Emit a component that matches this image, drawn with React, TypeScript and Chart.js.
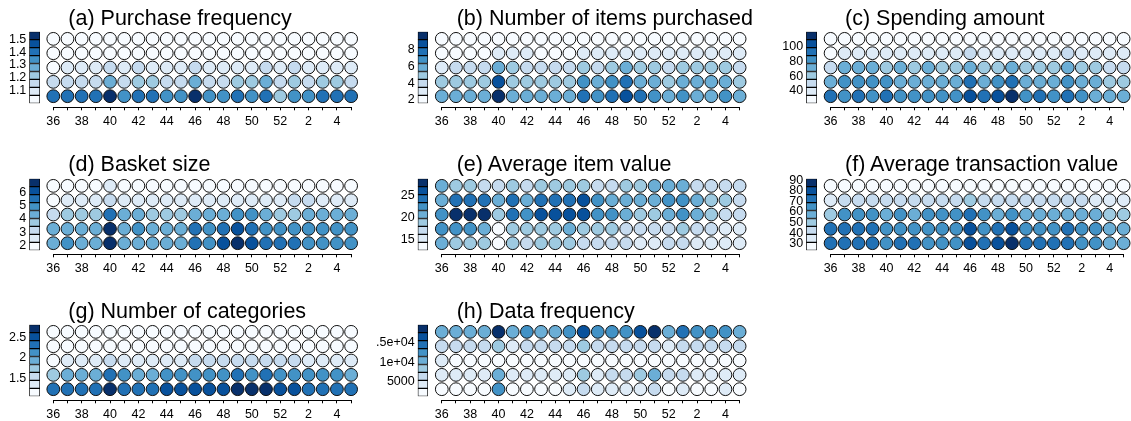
import React, { useEffect, useRef } from 'react';
import { Chart, registerables } from 'chart.js';

Chart.register(...registerables);

const FONT = '"Liberation Sans", Arial, Helvetica, sans-serif';

// Calendar weeks on the horizontal axis (week 36 of one year to week 5 of the next)
const weeks = ['36', '37', '38', '39', '40', '41', '42', '43', '44', '45', '46', '47', '48', '49', '50', '51', '52', '1', '2', '3', '4', '5'];

// Nine-step sequential blue palette used by every panel
const blues = ['#F7FBFF', '#DEEBF7', '#C6DBEF', '#9ECAE1', '#6BAED6', '#4292C6', '#2171B5', '#08519C', '#08306B'];

// Each panel: five customer groups (listed top row first) x 22 weeks

const purchaseFrequency = [
  [1.03, 1.03, 1.03, 1.03, 1.03, 1.03, 1.03, 1.03, 1.03, 1.03, 1.03, 1.03, 1.03, 1.03, 1.03, 1.03, 1.03, 1.03, 1.03, 1.03, 1.03, 1.03],
  [1.03, 1.03, 1.03, 1.03, 1.03, 1.03, 1.03, 1.03, 1.03, 1.03, 1.03, 1.03, 1.03, 1.03, 1.03, 1.03, 1.03, 1.03, 1.03, 1.03, 1.03, 1.03],
  [1.03, 1.09, 1.09, 1.09, 1.16, 1.09, 1.16, 1.09, 1.09, 1.09, 1.16, 1.09, 1.09, 1.09, 1.09, 1.16, 1.09, 1.16, 1.09, 1.09, 1.09, 1.09],
  [1.16, 1.16, 1.16, 1.16, 1.28, 1.16, 1.22, 1.22, 1.16, 1.16, 1.28, 1.16, 1.16, 1.22, 1.22, 1.28, 1.16, 1.22, 1.16, 1.22, 1.22, 1.16],
  [1.40, 1.40, 1.40, 1.40, 1.53, 1.34, 1.40, 1.40, 1.34, 1.34, 1.53, 1.34, 1.34, 1.40, 1.34, 1.40, 1.22, 1.34, 1.34, 1.40, 1.40, 1.40],
];
const purchaseFrequencyRange = [1.0, 1.56];
const purchaseFrequencyTicks = [1.1, 1.2, 1.3, 1.4, 1.5];
const purchaseFrequencyTickLabels = ['1.1', '1.2', '1.3', '1.4', '1.5'];

const itemsPurchased = [
  [2.1, 2.1, 2.1, 2.1, 2.1, 2.1, 2.1, 2.1, 2.1, 2.1, 2.1, 2.1, 2.1, 2.1, 2.1, 2.1, 2.1, 2.1, 2.1, 2.1, 2.1, 2.1],
  [2.1, 2.1, 2.1, 2.1, 3.0, 3.0, 3.0, 2.1, 2.1, 2.1, 3.0, 3.0, 3.0, 3.0, 3.0, 3.0, 3.0, 3.0, 3.0, 3.0, 3.0, 3.0],
  [3.0, 4.0, 4.0, 4.0, 5.8, 4.9, 4.0, 4.0, 4.0, 4.0, 4.9, 4.0, 4.9, 5.8, 4.9, 4.9, 4.0, 4.9, 4.9, 4.9, 4.9, 4.0],
  [4.9, 4.9, 4.9, 4.9, 8.7, 4.9, 4.9, 4.9, 4.9, 4.9, 6.8, 5.8, 6.8, 7.7, 5.8, 5.8, 4.9, 5.8, 5.8, 5.8, 5.8, 4.9],
  [5.8, 5.8, 5.8, 5.8, 9.6, 5.8, 5.8, 5.8, 5.8, 5.8, 7.7, 6.8, 7.7, 8.7, 7.7, 6.8, 5.8, 6.8, 5.8, 5.8, 6.8, 5.8],
];
const itemsPurchasedRange = [1.6, 10.1];
const itemsPurchasedTicks = [2, 4, 6, 8];
const itemsPurchasedTickLabels = ['2', '4', '6', '8'];

const spendingAmount = [
  [29, 29, 29, 29, 29, 29, 29, 29, 29, 29, 29, 29, 29, 29, 29, 29, 29, 29, 29, 29, 29, 29],
  [29, 39, 39, 39, 39, 39, 39, 39, 39, 39, 50, 39, 39, 39, 39, 39, 39, 50, 39, 39, 39, 39],
  [50, 72, 72, 72, 61, 72, 61, 72, 61, 61, 72, 61, 61, 72, 61, 61, 61, 72, 61, 61, 50, 50],
  [72, 83, 83, 83, 83, 72, 72, 72, 72, 72, 93, 72, 83, 93, 72, 72, 72, 83, 72, 72, 61, 61],
  [93, 83, 93, 83, 93, 83, 83, 83, 83, 83, 104, 93, 104, 115, 83, 93, 83, 93, 83, 72, 72, 72],
];
const spendingAmountRange = [23.3, 120.3];
const spendingAmountTicks = [40, 60, 80, 100];
const spendingAmountTickLabels = ['40', '60', '80', '100'];

const basketSize = [
  [1.9, 1.9, 1.9, 1.9, 2.5, 1.9, 1.9, 1.9, 1.9, 1.9, 1.9, 1.9, 1.9, 1.9, 1.9, 1.9, 1.9, 1.9, 1.9, 1.9, 1.9, 1.9],
  [1.9, 2.5, 2.5, 2.5, 3.1, 2.5, 2.5, 2.5, 2.5, 2.5, 2.5, 2.5, 2.5, 2.5, 2.5, 2.5, 2.5, 3.1, 3.1, 2.5, 2.5, 2.5],
  [3.1, 3.7, 3.7, 3.7, 5.5, 4.3, 4.3, 3.7, 3.7, 3.7, 4.3, 4.3, 4.3, 4.9, 4.9, 4.3, 3.7, 3.7, 4.3, 4.3, 4.3, 4.3],
  [4.3, 4.3, 4.3, 4.3, 6.8, 4.3, 4.9, 4.3, 4.3, 4.3, 5.5, 4.9, 5.5, 6.2, 5.5, 4.9, 4.9, 4.9, 4.9, 4.9, 4.9, 4.9],
  [4.3, 4.9, 4.3, 4.3, 6.8, 4.3, 4.3, 4.3, 4.3, 4.3, 5.5, 4.9, 6.2, 6.8, 6.2, 5.5, 5.5, 5.5, 4.9, 4.9, 4.9, 4.9],
];
const basketSizeRange = [1.62, 7.06];
const basketSizeTicks = [2, 3, 4, 5, 6];
const basketSizeTickLabels = ['2', '3', '4', '5', '6'];

const averageItemValue = [
  [20.6, 18.8, 18.8, 17.0, 17.0, 18.8, 17.0, 18.8, 18.8, 18.8, 18.8, 17.0, 17.0, 18.8, 18.8, 20.6, 20.6, 20.6, 17.0, 17.0, 17.0, 17.0],
  [20.6, 24.3, 24.3, 24.3, 20.6, 24.3, 20.6, 24.3, 24.3, 24.3, 26.1, 22.5, 20.6, 20.6, 20.6, 20.6, 22.5, 22.5, 20.6, 18.8, 18.8, 17.0],
  [22.5, 27.9, 27.9, 27.9, 18.8, 24.3, 22.5, 26.1, 26.1, 26.1, 26.1, 22.5, 22.5, 20.6, 18.8, 18.8, 20.6, 22.5, 20.6, 18.8, 17.0, 17.0],
  [22.5, 22.5, 22.5, 20.6, 13.4, 18.8, 18.8, 18.8, 18.8, 20.6, 18.8, 18.8, 18.8, 17.0, 17.0, 17.0, 17.0, 18.8, 17.0, 17.0, 15.2, 15.2],
  [20.6, 18.8, 18.8, 18.8, 13.4, 18.8, 17.0, 18.8, 18.8, 18.8, 17.0, 17.0, 17.0, 17.0, 15.2, 15.2, 17.0, 17.0, 15.2, 15.2, 15.2, 15.2],
];
const averageItemValueRange = [12.5, 28.8];
const averageItemValueTicks = [15, 20, 25];
const averageItemValueTickLabels = ['15', '20', '25'];

const averageTransactionValue = [
  [27, 27, 27, 27, 27, 27, 27, 27, 27, 27, 27, 27, 27, 27, 27, 27, 27, 27, 27, 27, 27, 27],
  [35, 43, 43, 43, 43, 43, 43, 43, 43, 43, 50, 43, 43, 43, 43, 43, 43, 43, 43, 35, 35, 35],
  [50, 65, 65, 65, 58, 65, 58, 65, 65, 65, 73, 65, 58, 65, 58, 58, 58, 58, 58, 58, 50, 50],
  [73, 73, 73, 73, 65, 65, 65, 65, 65, 65, 80, 65, 73, 80, 65, 65, 65, 73, 65, 65, 58, 58],
  [73, 73, 73, 73, 65, 73, 73, 65, 65, 65, 80, 73, 80, 88, 73, 73, 73, 73, 65, 65, 58, 58],
];
const averageTransactionValueRange = [23.7, 91.6];
const averageTransactionValueTicks = [30, 40, 50, 60, 70, 80, 90];
const averageTransactionValueTickLabels = ['30', '40', '50', '60', '70', '80', '90'];

const numberOfCategories = [
  [1.17, 1.17, 1.17, 1.17, 1.17, 1.17, 1.17, 1.17, 1.17, 1.17, 1.17, 1.17, 1.17, 1.17, 1.17, 1.17, 1.17, 1.17, 1.17, 1.17, 1.17, 1.17],
  [1.17, 1.17, 1.17, 1.17, 1.17, 1.17, 1.17, 1.17, 1.17, 1.17, 1.17, 1.17, 1.17, 1.17, 1.17, 1.17, 1.17, 1.17, 1.17, 1.17, 1.17, 1.17],
  [1.17, 1.36, 1.36, 1.36, 1.55, 1.36, 1.36, 1.36, 1.36, 1.36, 1.55, 1.55, 1.55, 1.55, 1.55, 1.55, 1.55, 1.55, 1.36, 1.36, 1.36, 1.36],
  [1.75, 1.94, 1.94, 1.94, 2.33, 2.13, 1.94, 1.94, 2.13, 2.13, 2.13, 2.13, 2.13, 2.33, 2.13, 2.33, 2.13, 2.13, 2.13, 2.13, 2.13, 1.94],
  [2.33, 2.33, 2.33, 2.33, 2.71, 2.33, 2.33, 2.33, 2.52, 2.52, 2.52, 2.52, 2.52, 2.71, 2.71, 2.71, 2.52, 2.52, 2.33, 2.33, 2.33, 2.33],
];
const numberOfCategoriesRange = [1.07, 2.81];
const numberOfCategoriesTicks = [1.5, 2, 2.5];
const numberOfCategoriesTickLabels = ['1.5', '2', '2.5'];

const dataFrequency = [
  [10400, 10400, 10400, 10400, 18600, 10400, 12500, 10400, 10400, 12500, 16600, 12500, 12500, 12500, 16600, 18600, 10400, 14500, 12500, 12500, 12500, 10400],
  [6300, 6300, 6300, 6300, 8400, 4300, 6300, 6300, 6300, 6300, 8400, 6300, 6300, 6300, 6300, 6300, 4300, 6300, 6300, 6300, 6300, 6300],
  [4300, 2200, 2200, 2200, 2200, 2200, 2200, 2200, 2200, 2200, 2200, 2200, 2200, 2200, 2200, 2200, 2200, 2200, 2200, 2200, 2200, 2200],
  [4300, 4300, 4300, 4300, 10400, 4300, 4300, 4300, 4300, 4300, 8400, 4300, 6300, 6300, 8400, 10400, 6300, 6300, 4300, 4300, 4300, 4300],
  [2200, 2200, 2200, 2200, 12500, 2200, 2200, 2200, 2200, 4300, 6300, 4300, 4300, 4300, 4300, 6300, 2200, 4300, 2200, 2200, 4300, 2200],
];
const dataFrequencyRange = [1200, 19650];
const dataFrequencyTicks = [5000, 10000, 15000];
const dataFrequencyTickLabels = ['5000', '1e+04', '1.5e+04'];

interface PanelSpec {
  title: string;
  rows: number[][];
  range: number[];
  ticks: number[];
  tickLabels: string[];
  col: number;
  row: number;
}

const panels: PanelSpec[] = [
  { title: '(a) Purchase frequency', rows: purchaseFrequency, range: purchaseFrequencyRange, ticks: purchaseFrequencyTicks, tickLabels: purchaseFrequencyTickLabels, col: 0, row: 0 },
  { title: '(b) Number of items purchased', rows: itemsPurchased, range: itemsPurchasedRange, ticks: itemsPurchasedTicks, tickLabels: itemsPurchasedTickLabels, col: 1, row: 0 },
  { title: '(c) Spending amount', rows: spendingAmount, range: spendingAmountRange, ticks: spendingAmountTicks, tickLabels: spendingAmountTickLabels, col: 2, row: 0 },
  { title: '(d) Basket size', rows: basketSize, range: basketSizeRange, ticks: basketSizeTicks, tickLabels: basketSizeTickLabels, col: 0, row: 1 },
  { title: '(e) Average item value', rows: averageItemValue, range: averageItemValueRange, ticks: averageItemValueTicks, tickLabels: averageItemValueTickLabels, col: 1, row: 1 },
  { title: '(f) Average transaction value', rows: averageTransactionValue, range: averageTransactionValueRange, ticks: averageTransactionValueTicks, tickLabels: averageTransactionValueTickLabels, col: 2, row: 1 },
  { title: '(g) Number of categories', rows: numberOfCategories, range: numberOfCategoriesRange, ticks: numberOfCategoriesTicks, tickLabels: numberOfCategoriesTickLabels, col: 0, row: 2 },
  { title: '(h) Data frequency', rows: dataFrequency, range: dataFrequencyRange, ticks: dataFrequencyTicks, tickLabels: dataFrequencyTickLabels, col: 1, row: 2 },
];

// Figure geometry (pixels)
const COL_W = 377;
const ROW_H = 146.67;
const CANVAS_H = 140;
const PLOT_TOP = 31.7;
const PLOT_BOTTOM = 107.3;
const X_AXIS_H = 30;
const GRID_SPAN = 297.8;
const gridLeftByCol = [53.3, 64.8, 76.6];
const barLeftByCol = [29.3, 40.7, 52.1];
const barRightByCol = [40.0, 51.3, 62.7];
const titleLeftByCol = [68.3, 79.7, 91.0];
const POINT_R = 6.4;
const TICK_FONT = 12.5;

function levelOf(v: number, range: number[]) {
  const [lo, hi] = range;
  const k = Math.floor(((v - lo) / (hi - lo)) * blues.length);
  return Math.max(0, Math.min(blues.length - 1, k));
}

function Panel({ spec }: { spec: PanelSpec }) {
  const gridRef = useRef<HTMLCanvasElement>(null);
  const barRef = useRef<HTMLCanvasElement>(null);

  const gridLeft = gridLeftByCol[spec.col];
  const barLeft = barLeftByCol[spec.col];
  const barRight = barRightByCol[spec.col];

  useEffect(() => {
    if (!gridRef.current || !barRef.current) return;

    const points: { x: number; y: number }[] = [];
    const colors: string[] = [];
    spec.rows.forEach((rowVals, r) => {
      rowVals.forEach((v, c) => {
        points.push({ x: c, y: spec.rows.length - r });
        colors.push(blues[levelOf(v, spec.range)]);
      });
    });

    const gridChart = new Chart(gridRef.current, {
      type: 'scatter',
      data: {
        datasets: [
          {
            data: points,
            pointRadius: POINT_R,
            pointHoverRadius: POINT_R,
            pointBackgroundColor: colors,
            pointBorderColor: '#111',
            pointBorderWidth: 1,
            clip: false,
          } as any,
        ],
      },
      options: {
        animation: false,
        responsive: false,
        events: [],
        layout: {
          padding: {
            left: gridLeft,
            right: COL_W - gridLeft - GRID_SPAN,
            top: PLOT_TOP,
            bottom: CANVAS_H - PLOT_BOTTOM - X_AXIS_H,
          },
        },
        plugins: { legend: { display: false }, tooltip: { enabled: false } },
        scales: {
          x: {
            type: 'linear',
            min: 0,
            max: weeks.length - 1,
            afterBuildTicks: (s: any) => {
              s.ticks = weeks.map((_, i) => ({ value: i }));
            },
            afterFit: (s: any) => {
              s.height = X_AXIS_H;
            },
            ticks: {
              autoSkip: false,
              maxRotation: 0,
              minRotation: 0,
              padding: 4,
              color: '#000',
              font: { family: FONT, size: TICK_FONT },
              callback: (v: any) => (Number(v) % 2 === 0 ? weeks[Number(v)] : ''),
            },
            grid: { drawOnChartArea: false, drawTicks: true, tickLength: 3, color: '#000', lineWidth: 1 },
            border: { display: true, color: '#000', width: 1 },
          },
          y: { type: 'linear', display: false, min: 0.225, max: 5.5 },
        },
      } as any,
    });

    const [lo, hi] = spec.range;
    const edges = blues.map((_, i) => lo + ((hi - lo) * i) / blues.length).concat([hi]);

    const barChart = new Chart(barRef.current, {
      type: 'bar',
      data: {
        labels: [''],
        datasets: blues.map((c, i) => ({
          data: [[edges[i], edges[i + 1]]],
          backgroundColor: c,
          borderColor: '#000',
          borderWidth: 1,
          borderSkipped: false,
          grouped: false,
          barPercentage: 1,
          categoryPercentage: 1,
        })) as any,
      },
      options: {
        animation: false,
        responsive: false,
        events: [],
        layout: { padding: { left: 0, right: 0, top: PLOT_TOP, bottom: CANVAS_H - 103.3 } },
        plugins: { legend: { display: false }, tooltip: { enabled: false } },
        scales: {
          x: { display: false },
          y: {
            type: 'linear',
            min: lo,
            max: hi,
            afterBuildTicks: (s: any) => {
              s.ticks = spec.ticks.map((v) => ({ value: v }));
            },
            afterFit: (s: any) => {
              s.width = barLeft;
            },
            ticks: {
              autoSkip: false,
              padding: 3,
              color: '#000',
              font: { family: FONT, size: TICK_FONT },
              callback: (v: any) => {
                const i = spec.ticks.indexOf(Number(v));
                return i >= 0 ? spec.tickLabels[i] : '';
              },
            },
            grid: { display: false, drawTicks: false },
            border: { display: false },
          },
        },
      } as any,
    });

    return () => {
      gridChart.destroy();
      barChart.destroy();
    };
  }, [spec, gridLeft, barLeft]);

  const left = spec.col * COL_W;
  const top = Math.round(spec.row * ROW_H);

  return (
    <>
      <div style={{ position: 'absolute', left, top, width: COL_W, height: CANVAS_H }}>
        <canvas
          ref={barRef}
          width={Math.round(barRight)}
          height={CANVAS_H}
          style={{ position: 'absolute', left: 0, top: 0 }}
        />
        <canvas
          ref={gridRef}
          width={COL_W}
          height={CANVAS_H}
          style={{ position: 'absolute', left: 0, top: 0 }}
        />
      </div>
      <div
        style={{
          position: 'absolute',
          left: left + titleLeftByCol[spec.col],
          top: spec.row * ROW_H + 7.8,
          fontFamily: FONT,
          fontSize: 21.5,
          lineHeight: '21.5px',
          whiteSpace: 'nowrap',
          color: '#000',
        }}
      >
        {spec.title}
      </div>
    </>
  );
}

export default function App() {
  return (
    <div
      style={{
        position: 'absolute',
        left: 0,
        top: 0,
        width: 1131,
        height: 421,
        background: '#fff',
        overflow: 'hidden',
      }}
    >
      {panels.map((p) => (
        <Panel key={p.title} spec={p} />
      ))}
    </div>
  );
}
